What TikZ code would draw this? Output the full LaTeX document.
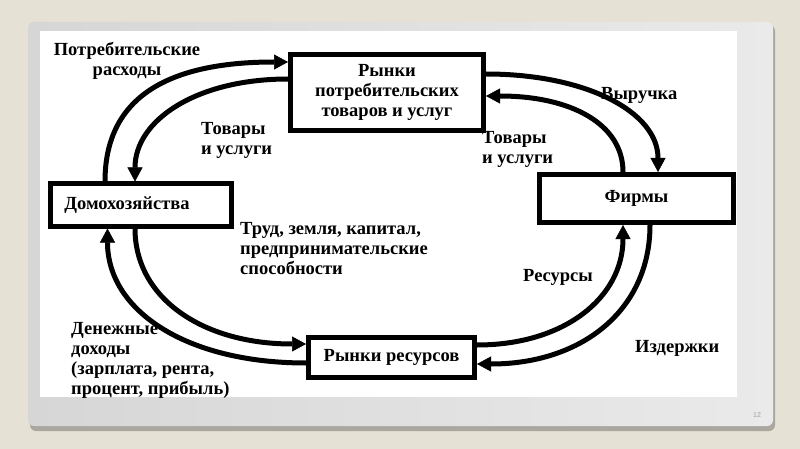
\documentclass[tikz,border=0pt]{standalone}
\usepackage{fontspec}
\setmainfont{Liberation Serif}
\newfontfamily\tnr{Liberation Serif}
\newfontfamily\pgfont{Liberation Sans}
\usetikzlibrary{arrows.meta,calc}
\definecolor{bgc}{HTML}{E6E1D5}
\definecolor{shadowc}{HTML}{A9A79F}
\definecolor{panelL}{HTML}{D6D6D6}
\definecolor{panelR}{HTML}{EAEAEA}
\newcommand{\lbl}{\tnr\bfseries\fontsize{18.5}{20}\selectfont}
\begin{document}
\begin{tikzpicture}[x=1pt,y=-1pt,
  box/.style={draw=black,line width=5pt,fill=white,inner sep=0pt,font=\lbl},
  lab/.style={font=\lbl,inner sep=0pt},
  flow/.style={line width=5pt,-{Triangle[length=14pt,width=15pt,line width=0.5pt]}}]
\useasboundingbox (0,0) rectangle (800,449);
% slide background
\fill[bgc] (0,0) rectangle (800,449);
\fill[shadowc,rounded corners=6pt] (30,25) rectangle (775,431);
\shade[left color=panelL,right color=panelR,rounded corners=6pt] (28,22) rectangle (773,426);
\fill[white] (40,31) rectangle (737,397);
\node[font=\pgfont\fontsize{7}{8}\selectfont,text=gray!75] (pg) at (757,415) {12};
% labels
\node[lab,align=center] (l1) at (127,61) {Потребительские\\расходы};
\node[lab,align=left,anchor=west] (l2) at (201,140) {Товары\\и услуги};
\node[lab,anchor=west] (l3) at (601,95) {Выручка};
\node[lab,align=left,anchor=west] (l4) at (482,149) {Товары\\и услуги};
\node[lab,align=left,anchor=west] (l5) at (240,249) {Труд, земля, капитал,\\предпринимательские\\способности};
\node[lab,anchor=west] (l6) at (523,277) {Ресурсы};
\node[lab,align=left,anchor=west] (l7) at (71,360) {Денежные\\доходы\\(зарплата, рента,\\процент, прибыль)};
\node[lab,anchor=west] (l8) at (635,348) {Издержки};
% boxes
\node[box,align=center,minimum width=193pt,minimum height=76pt] (top) at (387,92.5) {Рынки\\потребительских\\товаров и услуг};
\node[box,minimum width=181pt,minimum height=42pt] (hh) at (140.5,205) {Домохозяйства\hspace*{27pt}};
\node[box,minimum width=194pt,minimum height=48pt] (fi) at (636.5,198.5) {\raisebox{4pt}{Фирмы}};
\node[box,minimum width=166pt,minimum height=40pt] (rr) at (391.5,357.5) {Рынки ресурсов};
% flows
\draw[flow] ($(hh.north west)+(57.5,0)$) .. controls +(0,-81) and +(-125,0) .. ($(top.north west)+(0,10)$);
\draw[flow] ($(top.north west)+(0,27)$) .. controls +(-92,0) and +(0,-61) .. ($(hh.north west)+(87.5,0)$);
\draw[flow] ($(top.north east)+(0,22)$) .. controls +(100,0) and +(0,-60) .. ($(fi.north west)+(121,0)$);
\draw[flow] ($(fi.north west)+(86,0)$) .. controls +(0,-48) and +(85,0) .. ($(top.north east)+(0,44)$);
\draw[flow] ($(rr.north east)+(0,10)$) .. controls +(88,0) and +(0,72) .. ($(fi.south west)+(86,0)$);
\draw[flow] ($(fi.south west)+(113,0)$) .. controls +(0,85) and +(105,0) .. ($(rr.north east)+(0,29)$);
\draw[flow] ($(hh.south west)+(87.5,0)$) .. controls +(0,70) and +(-103,0) .. ($(rr.north west)+(0,9)$);
\draw[flow] ($(rr.north west)+(0,28)$) .. controls +(-120,0) and +(0,82) .. ($(hh.south west)+(60,0)$);
\end{tikzpicture}
\end{document}
